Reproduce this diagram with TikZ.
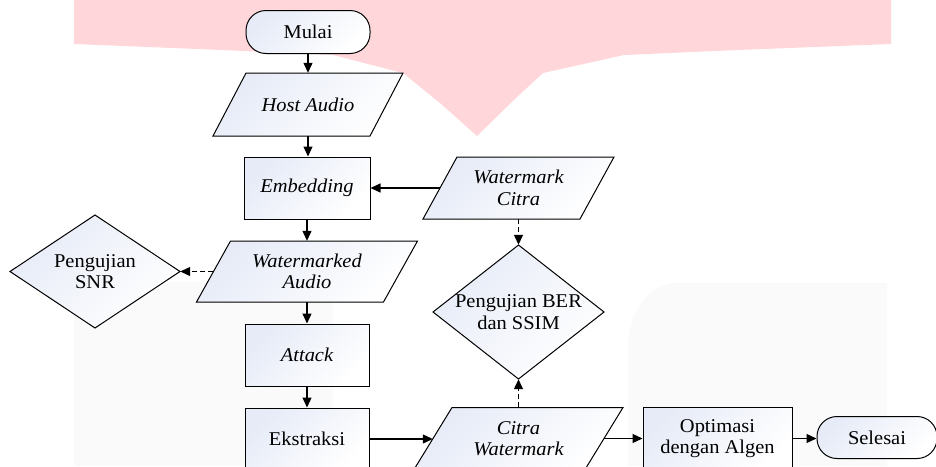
\documentclass[tikz,border=0pt]{standalone}
\usepackage{fontspec}
\setmainfont{Liberation Serif}[FakeStretch=1.05]
\usetikzlibrary{arrows.meta}
\definecolor{pinkwm}{RGB}{255,214,218}
\definecolor{graywm}{RGB}{250,250,250}
\definecolor{fillc}{RGB}{230,235,247}
\newcommand\iopara[7]{%
  \path[shp] (#2-#4/2+#6/2,#3-#5/2) -- (#2+#4/2+#6/2,#3-#5/2) -- (#2+#4/2-#6/2,#3+#5/2) -- (#2-#4/2-#6/2,#3+#5/2) -- cycle;
  \node[minimum width=#4, minimum height=#5] (#1) at (#2,#3) {#7};}
\newcommand\dmdshape[6]{%
  \path[shp] (#2,#3-#5) -- (#2+#4,#3) -- (#2,#3+#5) -- (#2-#4,#3) -- cycle;
  \node[minimum width=2*#4, minimum height=2*#5] (#1) at (#2,#3) {#6};}
\begin{document}
\begin{tikzpicture}[x=1pt,y=-1pt,
  every node/.style={font=\fontsize{19.5}{21.5}\selectfont, align=center, inner sep=0pt},
  shp/.style={draw=black, line width=1pt, top color=fillc, bottom color=white, shading angle=45},
  proc/.style={shp, minimum width=#1, minimum height=62},
  term/.style={shp, rounded corners=20pt, minimum width=#1, minimum height=42},
  arr/.style={line width=1.2pt, -{Triangle[length=10pt,width=9pt]}},
  darr/.style={arr, dash pattern=on 5pt off 3pt},
]
\clip (0,0) rectangle (936,466);
\fill[white] (0,0) rectangle (936,466);
% faint watermark
\fill[pinkwm] (74,0) -- (891,0) -- (891,44) -- (738,50) -- (624,55) -- (543,73) -- (517,97) -- (477,136)
  -- (440,103) -- (403,73) -- (333,55) -- (222,50) -- (74,44) -- cycle;
\fill[graywm] (74,282) rectangle (333,466);
\fill[graywm] (677,283) -- (887,283) -- (887,466) -- (628,466) -- (628,350)
  .. controls (628,310) and (650,283) .. (677,283) -- cycle;
% nodes
\node[term=124, minimum height=43] (start) at (308,32) {Mulai};
\iopara{host}{308}{104.5}{157}{63}{33}{\itshape Host Audio}
\node[proc=126] (emb) at (307,188) {\itshape Embedding};
\iopara{wmc}{518.5}{188}{157}{62}{34}{\itshape Watermark\\\itshape Citra}
\iopara{wma}{307}{271.5}{187}{61}{34}{\itshape Watermarked\\\itshape Audio}
\dmdshape{snr}{95}{271.5}{85}{56.5}{Pengujian\\SNR}
\node[proc=124] (att) at (307,355) {\itshape Attack};
\node[proc=124] (ext) at (307,439) {Ekstraksi};
\dmdshape{ber}{518.5}{312}{85.5}{67}{Pengujian BER\\dan SSIM}
\iopara{cw}{518.5}{438.5}{171}{62}{38}{\itshape Citra\\\itshape Watermark}
\node[proc=149] (opt) at (717.5,438.5) {Optimasi\\dengan Algen};
\node[term=120] (fin) at (877,437.5) {Selesai};
% connectors
\draw[arr] (start.south) -- (start.south |- host.north);
\draw[arr] (host.south) -- (host.south |- emb.north);
\draw[arr] (wmc.west) -- (wmc.west -| emb.east);
\draw[arr] (emb.south) -- (emb.south |- wma.north);
\draw[darr] (wma.west) -- (wma.west -| snr.east);
\draw[arr] (wma.south) -- (wma.south |- att.north);
\draw[arr] (att.south) -- (ext.north);
\draw[darr] (wmc.south) -- (wmc.south |- ber.north);
\draw[arr] (ext.east) -- (ext.east -| cw.west);
\draw[darr] (cw.north) -- (cw.north |- ber.south);
\draw[arr] (cw.east) -- (cw.east -| opt.west);
\draw[arr] (opt.east) -- (opt.east -| fin.west);
\end{tikzpicture}
\end{document}
